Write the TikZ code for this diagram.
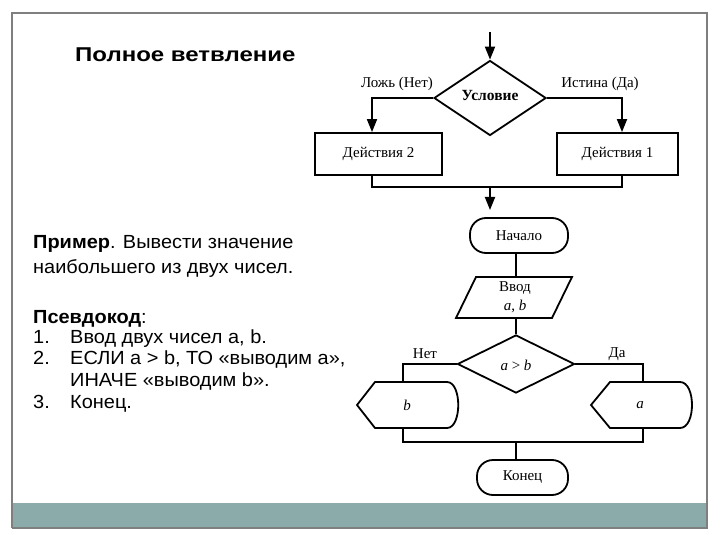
\documentclass[tikz,border=0pt]{standalone}
\usepackage{fontspec}
\setmainfont{Liberation Serif}
\newfontfamily\arialf{Liberation Sans}
\usetikzlibrary{shapes.geometric,arrows.meta,calc}
\definecolor{barcol}{HTML}{8AABAA}
\definecolor{framecol}{HTML}{7F7F7F}
\tikzset{
  fc/.style={line width=1.8pt},
  box/.style={draw, line width=1.8pt, minimum width=#1, minimum height=42pt, inner sep=0pt, font=\fontsize{15}{17}\selectfont},
  term/.style={draw, line width=1.8pt, rounded corners=16pt, minimum height=35pt, minimum width=#1, inner sep=0pt, font=\fontsize{15}{17}\selectfont},
  dia/.style={draw, diamond, line width=1.8pt, inner sep=0pt, minimum width=#1},
  lbl/.style={font=\fontsize{15}{17}\selectfont, inner sep=0pt},
  arr/.style={-{Triangle[length=13pt,width=10pt]}, line width=1.8pt},
  body/.style={font=\arialf\fontsize{19}{21}\selectfont, anchor=base west, inner sep=0pt},
}
\newcommand{\widetxt}[1]{\scalebox{1.05}[1]{#1}}
\begin{document}
\begin{tikzpicture}[x=1pt,y=-1pt]
\useasboundingbox (0,0) rectangle (720,540);
% frame and bar
\fill[barcol] (12,503) rectangle (707,528);
\draw[framecol, line width=1.2pt] (12,528) -- (12,13) -- (707,13) -- (707,528) -- (12,528);

% left texts
\node[anchor=base west, inner sep=0pt, font=\arialf\bfseries\fontsize{20}{22}\selectfont] (title) at (75,62) {\scalebox{1.2}[1]{Полное ветвление}};
\node[body] (t1) at (33,248) {\widetxt{\textbf{Пример}. Вывести значение}};
\node[body] (t2) at (33,273) {\widetxt{наибольшего из двух чисел.}};
\node[body] (t3) at (33,323) {\widetxt{\textbf{Псевдокод}:}};
\node[body] (n1) at (33,343) {\widetxt{1.}};
\node[body] (t4) at (70,343) {\widetxt{Ввод двух чисел a, b.}};
\node[body] (n2) at (33,364) {\widetxt{2.}};
\node[body] (t5) at (70,364) {\widetxt{ЕСЛИ a > b, ТО «выводим a»,}};
\node[body] (t6) at (70,386) {\widetxt{ИНАЧЕ «выводим b».}};
\node[body] (n3) at (33,408) {\widetxt{3.}};
\node[body] (t7) at (70,408) {\widetxt{Конец.}};

% top flowchart
\coordinate (in) at (490,32);
\node[dia=112pt, minimum height=75pt, aspect=1.49] (cond) at (490,98) {};
\node[lbl, font=\bfseries\fontsize{15.5}{17}\selectfont] (condt) at (490,96) {Условие};
\node[box=127pt] (act2) at (378.5,154) {Действия 2};
\node[box=121pt] (act1) at (617.5,154) {Действия 1};
\node[lbl] (lno) at (397,84) {Ложь (Нет)};
\node[lbl] (lyes) at (600,84) {Истина (Да)};
\coordinate (lx) at (372,0);
\coordinate (rx) at (622,0);
\coordinate (join) at (490,187);
\coordinate (outp) at (490,210);
\draw[arr] (in) -- (cond.north);
\draw[arr] (cond.west) -| (lx |- act2.north);
\draw[arr] (cond.east) -| (rx |- act1.north);
\draw[fc] (lx |- act2.south) |- (join) -| (rx |- act1.south);
\draw[arr] (join) -- (outp);

% bottom flowchart
\node[term=98pt] (start) at (519,235.5) {Начало};
\coordinate (p1) at (476,277);
\coordinate (p2) at (572,277);
\coordinate (p3) at (552,318);
\coordinate (p4) at (456,318);
\draw[fc, line join=miter] (p1) -- (p2) -- (p3) -- (p4) -- cycle;
\node[lbl, align=center] (inp) at (515,297.5) {Ввод\\[2pt]\textit{a}, \textit{b}};
\coordinate (inTop) at (516,277);
\coordinate (inBot) at (516,318);
\node[dia=117pt, minimum height=58pt, aspect=2.0] (dec) at (516,364) {};
\node[lbl] (dect) at (516,365) {\textit{a} > \textit{b}};
\node[lbl] (lnet) at (425,354) {Нет};
\node[lbl] (lda) at (617,354) {Да};
% display b
\coordinate (bT) at (403,382);
\coordinate (bB) at (403,428);
\draw[fc, line join=miter] (357,405) -- (375,382) -- (447,382) .. controls (462,382) and (462,428) .. (447,428) -- (375,428) -- cycle;
\node[lbl] (outb) at (407,405) {\textit{b}};
% display a
\coordinate (aT) at (643,382);
\coordinate (aB) at (643,428);
\draw[fc, line join=miter] (591,405) -- (610,382) -- (680,382) .. controls (696,382) and (696,428) .. (680,428) -- (610,428) -- cycle;
\node[lbl] (outa) at (640,405) {\textit{a}};
\coordinate (bj) at (516,442);
\node[term=91pt] (stop) at (522.5,477.5) {Конец};
\draw[fc] (start.south -| inTop) -- (inTop);
\draw[fc] (inBot) -- (dec.north);
\draw[fc] (dec.west) -| (bT);
\draw[fc] (dec.east) -| (aT);
\draw[fc] (bB) |- (bj) -| (aB);
\draw[fc] (bj) -- (bj |- stop.north);
\end{tikzpicture}
\end{document}
